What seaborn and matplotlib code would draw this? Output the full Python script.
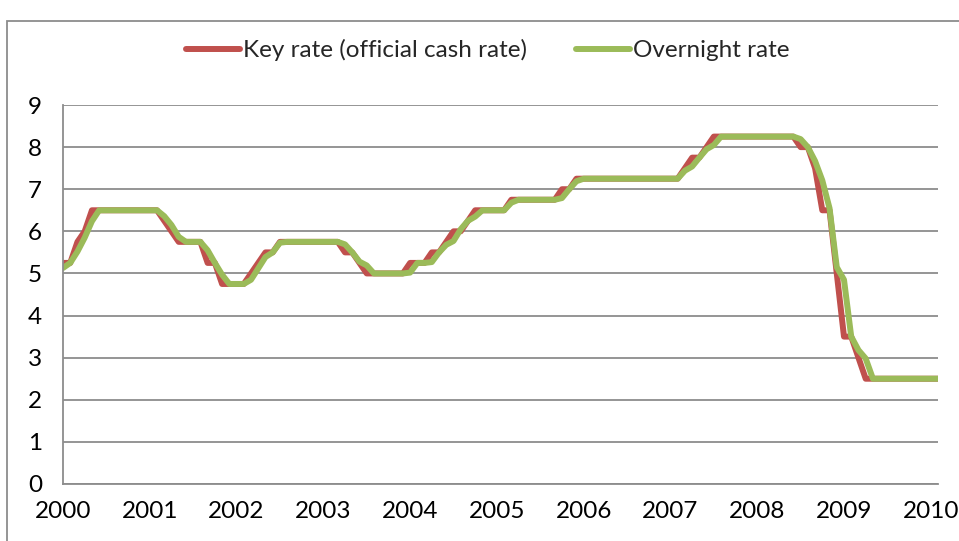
import numpy as np
import pandas as pd
import matplotlib
matplotlib.use("Agg")
import matplotlib.pyplot as plt
from matplotlib.lines import Line2D
from matplotlib.patches import Rectangle
import seaborn as sns

# ---- data (monthly, Jan 2000 .. Feb 2010) ----
key_2000 = [5.25, 5.25, 5.75, 6.0, 6.5, 6.5, 6.5, 6.5, 6.5, 6.5, 6.5, 6.5]
key_2001 = [6.5, 6.5, 6.25, 6.0, 5.75, 5.75, 5.75, 5.75, 5.25, 5.25, 4.75, 4.75]
key_2002 = [4.75, 4.75, 5.0, 5.25, 5.5, 5.5, 5.75, 5.75, 5.75, 5.75, 5.75, 5.75]
key_2003 = [5.75, 5.75, 5.75, 5.5, 5.5, 5.25, 5.0, 5.0, 5.0, 5.0, 5.0, 5.0]
key_2004 = [5.25, 5.25, 5.25, 5.5, 5.5, 5.75, 6.0, 6.0, 6.25, 6.5, 6.5, 6.5]
key_2005 = [6.5, 6.5, 6.75, 6.75, 6.75, 6.75, 6.75, 6.75, 6.75, 7.0, 7.0, 7.25]
key_2006 = [7.25, 7.25, 7.25, 7.25, 7.25, 7.25, 7.25, 7.25, 7.25, 7.25, 7.25, 7.25]
key_2007 = [7.25, 7.25, 7.5, 7.75, 7.75, 8.0, 8.25, 8.25, 8.25, 8.25, 8.25, 8.25]
key_2008 = [8.25, 8.25, 8.25, 8.25, 8.25, 8.25, 8.0, 8.0, 7.5, 6.5, 6.5, 5.0]
key_2009 = [3.5, 3.5, 3.0, 2.5, 2.5, 2.5, 2.5, 2.5, 2.5, 2.5, 2.5, 2.5]
key_2010 = [2.5, 2.5]

on_2000 = [5.13, 5.25, 5.52, 5.85, 6.24, 6.5, 6.5, 6.5, 6.5, 6.5, 6.5, 6.5]
on_2001 = [6.5, 6.5, 6.36, 6.15, 5.87, 5.75, 5.75, 5.75, 5.55, 5.25, 4.97, 4.75]
on_2002 = [4.75, 4.75, 4.85, 5.12, 5.39, 5.5, 5.73, 5.75, 5.75, 5.75, 5.75, 5.75]
on_2003 = [5.75, 5.75, 5.75, 5.69, 5.5, 5.28, 5.19, 5.0, 5.0, 5.0, 5.0, 5.0]
on_2004 = [5.02, 5.25, 5.25, 5.27, 5.5, 5.68, 5.77, 6.05, 6.25, 6.35, 6.5, 6.5]
on_2005 = [6.5, 6.5, 6.68, 6.75, 6.75, 6.75, 6.75, 6.75, 6.75, 6.79, 7.0, 7.19]
on_2006 = [7.25, 7.25, 7.25, 7.25, 7.25, 7.25, 7.25, 7.25, 7.25, 7.25, 7.25, 7.25]
on_2007 = [7.25, 7.25, 7.44, 7.54, 7.75, 7.95, 8.05, 8.25, 8.25, 8.25, 8.25, 8.25]
on_2008 = [8.25, 8.25, 8.25, 8.25, 8.25, 8.25, 8.19, 8.0, 7.67, 7.21, 6.55, 5.15]
on_2009 = [4.85, 3.5, 3.18, 2.98, 2.5, 2.5, 2.5, 2.5, 2.5, 2.5, 2.5, 2.5]
on_2010 = [2.5, 2.5]

key_rate = (key_2000 + key_2001 + key_2002 + key_2003 + key_2004 + key_2005 +
            key_2006 + key_2007 + key_2008 + key_2009 + key_2010)
overnight = (on_2000 + on_2001 + on_2002 + on_2003 + on_2004 + on_2005 +
             on_2006 + on_2007 + on_2008 + on_2009 + on_2010)

series_names = ["Key rate (official cash rate)", "Overnight rate"]
year_ticks = list(range(2000, 2011))
y_ticks = list(range(0, 10))

months = np.arange(len(key_rate))
xpos = 2000 + months / 12.0

df = pd.DataFrame({
    "x": np.concatenate([xpos, xpos]),
    "rate": key_rate + overnight,
    "series": [series_names[0]] * len(key_rate) + [series_names[1]] * len(overnight),
})

RED = "#C0504D"
GREEN = "#9BBB59"
GRAY = "#8C8C8C"

sns.set_theme(style="white")
plt.rcParams["font.family"] = ["Lato", "DejaVu Sans"]

fig = plt.figure(figsize=(9.59, 5.41), dpi=100)
fig.patch.set_facecolor("white")
ax = fig.add_axes([63 / 959, 57 / 541, 875 / 959, 379 / 541])

sns.lineplot(data=df, x="x", y="rate", hue="series", palette=[RED, GREEN],
             linewidth=4.3, ax=ax, legend=False, solid_joinstyle="round",
             solid_capstyle="round")

ax.set_xlim(2000, 2010 + 1 / 12)
ax.set_ylim(0, 9)
ax.set_xticks(year_ticks)
ax.set_xticklabels([str(y) for y in year_ticks])
ax.set_yticks(y_ticks)
ax.set_xlabel("")
ax.set_ylabel("")
ax.yaxis.grid(True, color=GRAY, linewidth=1.3)
ax.xaxis.grid(False)
ax.set_axisbelow(True)
for s in ["top", "right"]:
    ax.spines[s].set_visible(False)
for s in ["left", "bottom"]:
    ax.spines[s].set_color(GRAY)
    ax.spines[s].set_linewidth(1.3)
ax.tick_params(axis="both", which="major", direction="out", length=7,
               width=1.3, color=GRAY, labelsize=17.5, labelcolor="black")
ax.tick_params(axis="y", pad=8)
ax.tick_params(axis="x", pad=5)

handles = [Line2D([0], [0], color=RED, lw=4.3), Line2D([0], [0], color=GREEN, lw=4.3)]
fig.legend(handles, series_names, loc="center", bbox_to_anchor=(488 / 959, 1 - 50 / 541),
           ncol=2, frameon=False, fontsize=17.5, handlelength=2.2, handletextpad=0.15,
           columnspacing=2.0)

fig.add_artist(Rectangle((7 / 959, -0.1), 1.2, 1 - 21 / 541 + 0.1,
                         transform=fig.transFigure, fill=False,
                         edgecolor=GRAY, linewidth=1.3))

fig.savefig("out.png", dpi=100, facecolor="white")
